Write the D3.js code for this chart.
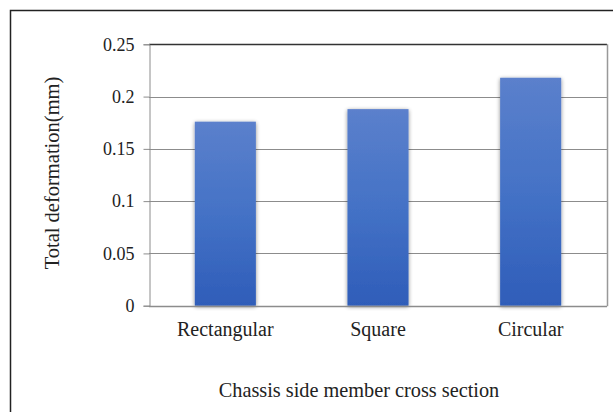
<!DOCTYPE html>
<html><head><meta charset="utf-8">
<script src="https://cdn.jsdelivr.net/npm/d3@7"></script>
<style>html,body{margin:0;padding:0;background:#fff;}svg{display:block;}</style>
</head><body>
<script>
const categories = ["Rectangular", "Square", "Circular"];
const values = [0.176, 0.188, 0.218];
const yTicks = [0, 0.05, 0.1, 0.15, 0.2, 0.25];
const yTitle = "Total deformation(mm)";
const xTitle = "Chassis side member cross section";

const W = 613, H = 412;
const svg = d3.select("body").append("svg").attr("width", W).attr("height", H);
const font = "'Liberation Serif','Times New Roman',serif";

const defs = svg.append("defs");
const grad = defs.append("linearGradient").attr("id","bg").attr("x1",0).attr("y1",0).attr("x2",0).attr("y2",1);
grad.append("stop").attr("offset","0%").attr("stop-color","#5b80cc");
grad.append("stop").attr("offset","50%").attr("stop-color","#4472c6");
grad.append("stop").attr("offset","100%").attr("stop-color","#2f5db9");
const f = defs.append("filter").attr("id","sh").attr("x","-20%").attr("y","-10%").attr("width","140%").attr("height","120%");
f.append("feGaussianBlur").attr("in","SourceAlpha").attr("stdDeviation",2).attr("result","b");
f.append("feOffset").attr("in","b").attr("dx",0).attr("dy",1).attr("result","o");
f.append("feComponentTransfer").attr("in","o").attr("result","o2").append("feFuncA").attr("type","linear").attr("slope",0.45);
const m = f.append("feMerge"); m.append("feMergeNode").attr("in","o2"); m.append("feMergeNode").attr("in","SourceGraphic");

// outer frame
svg.append("rect").attr("x",10.5).attr("y",10.5).attr("width",W+20).attr("height",H+20)
  .attr("fill","none").attr("stroke","#222").attr("stroke-width",1.5);

const pL = 149, pR = 607, pT = 44.3, pB = 305.7;
const x = d3.scaleBand().domain(categories).range([pL, pR]).paddingInner(0.6).paddingOuter(0.3);
const y = d3.scaleLinear().domain([0, 0.25]).range([pB, pT]);

// gridlines
svg.append("g").selectAll("line").data(yTicks.filter(d=>d>0 && d<0.25)).join("line")
  .attr("x1", pL).attr("x2", pR).attr("y1", d=>Math.round(y(d))+0.5).attr("y2", d=>Math.round(y(d))+0.5)
  .attr("stroke","#8c8c8c").attr("stroke-width",1);
// top plot border (darker)
svg.append("line").attr("x1",pL).attr("x2",pR).attr("y1",Math.round(y(0.25))+0.5).attr("y2",Math.round(y(0.25))+0.5)
  .attr("stroke","#333").attr("stroke-width",1.3);
// right border
svg.append("line").attr("x1",pR+0.5).attr("x2",pR+0.5).attr("y1",y(0.25)).attr("y2",y(0)+0.5)
  .attr("stroke","#999").attr("stroke-width",1.5);

// bars
svg.append("g").selectAll("rect").data(values).join("rect")
  .attr("x",(d,i)=>x(categories[i])).attr("width",x.bandwidth())
  .attr("y",d=>y(d)).attr("height",d=>y(0)-y(d))
  .attr("fill","url(#bg)").attr("filter","url(#sh)");

// y axis
const yAxis = d3.axisLeft(y).tickValues(yTicks).tickFormat(d=>String(+d.toFixed(2))).tickSize(6).tickPadding(9);
const ga = svg.append("g").attr("transform",`translate(${pL+0.5},0)`).call(yAxis);
ga.select(".domain").attr("stroke","#8c8c8c");
ga.selectAll(".tick line").attr("stroke","#8c8c8c");
ga.selectAll("text").attr("font-family",font).attr("font-size",18).attr("fill","#222");

// x axis baseline
svg.append("line").attr("x1",pL).attr("x2",pR).attr("y1",Math.round(y(0))+0.5).attr("y2",Math.round(y(0))+0.5)
  .attr("stroke","#8c8c8c").attr("stroke-width",1.3);
const xAxis = d3.axisBottom(x).tickSize(0).tickPadding(16);
const gx = svg.append("g").attr("transform",`translate(0,${y(0)})`).call(xAxis);
gx.select(".domain").remove();
gx.selectAll("text").attr("font-family",font).attr("font-size",20).attr("fill","#222");

// titles
svg.append("text").attr("transform",`translate(59,${173}) rotate(-90)`)
  .attr("text-anchor","middle").attr("font-family",font).attr("font-size",20.5).attr("fill","#222").text(yTitle);
svg.append("text").attr("x",359).attr("y",397).attr("text-anchor","middle")
  .attr("font-family",font).attr("font-size",20.3).attr("fill","#222").text(xTitle);
</script>
</body></html>
